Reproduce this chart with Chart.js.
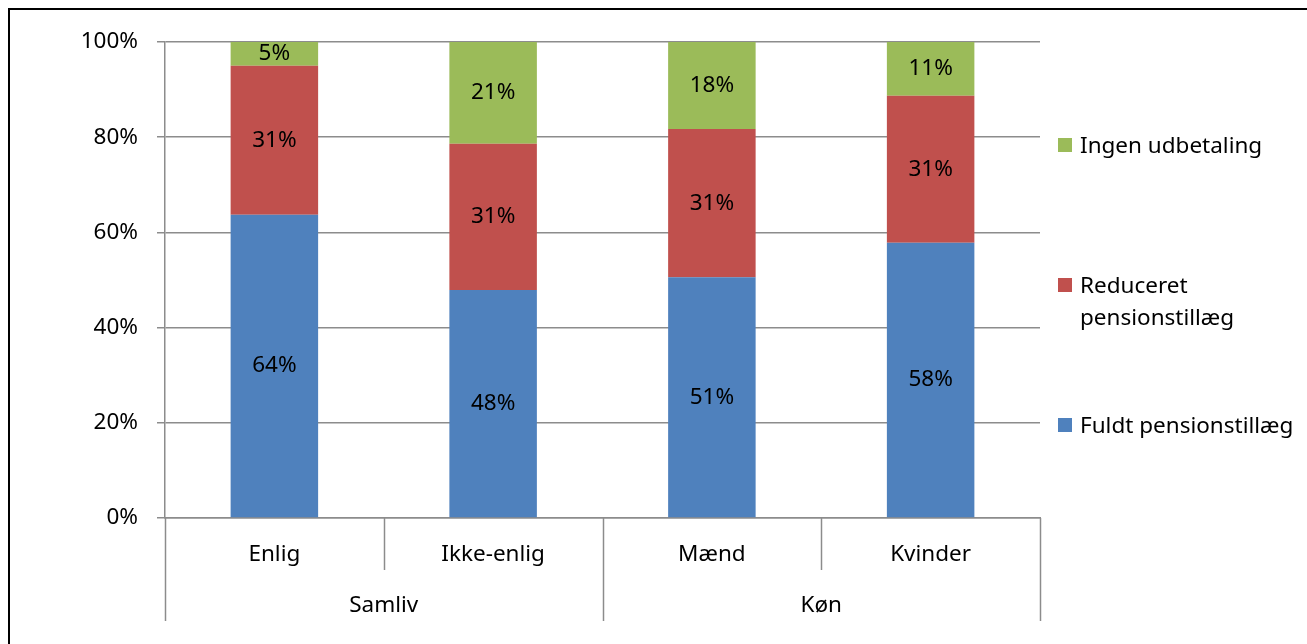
<!DOCTYPE html>
<html lang="da">
<head>
  <meta charset="UTF-8">
  <title>Pensionstillæg</title>
  <script src="https://cdn.jsdelivr.net/npm/chart.js"></script>
  <style>
    body { margin: 0; background: #fff; font-family: 'Noto Sans', sans-serif; }
    #wrap { position: relative; width: 1307px; height: 644px; overflow: hidden; }
    #frame { position: absolute; left: 8px; top: 8px; right: -4px; bottom: -4px;
             border-left: 2px solid #000; border-top: 2px solid #000; }
    #myChart { position: absolute; left: 0; top: 0; }
    .leg { position: absolute; left: 1058px; font-size: 22.5px; line-height: 32px; color: #000; }
    .leg span.box { position: absolute; left: 0; top: 9px; width: 14px; height: 14px; }
    .leg span.txt { display: block; margin-left: 22px; width: 226px; white-space: normal; }
  </style>
</head>
<body>
  <div id="wrap">
    <div id="frame"></div>
    <canvas id="myChart" width="1307" height="644"></canvas>
  </div>

  <script>
    const categories = ['Enlig', 'Ikke-enlig', 'Mænd', 'Kvinder'];
    const groupLabels = ['Samliv', 'Køn'];
    const groupSizes = [2, 2];

    const seriesNames = ['Fuldt pensionstillæg', 'Reduceret pensionstillæg', 'Ingen udbetaling'];
    const fuldt = [63.7, 47.9, 50.6, 57.8];
    const reduceret = [31.3, 30.7, 31.1, 30.9];
    const ingen = [5.0, 21.4, 18.3, 11.3];
    const seriesColors = ['#4F81BD', '#C0504D', '#9BBB59'];

    const yTicks = [0, 20, 40, 60, 80, 100];

    const FONT = "'Noto Sans', sans-serif";
    const FSIZE = 22.5;
    const GRID = '#8c8c8c';

    // value labels in the middle of each segment
    const segmentLabels = {
      id: 'segmentLabels',
      afterDatasetsDraw(chart) {
        const ctx = chart.ctx;
        ctx.save();
        ctx.font = FSIZE + 'px ' + FONT;
        ctx.fillStyle = '#000';
        ctx.textAlign = 'center';
        ctx.textBaseline = 'middle';
        chart.data.datasets.forEach((ds, i) => {
          chart.getDatasetMeta(i).data.forEach((bar, j) => {
            ctx.fillText(Math.round(ds.data[j]) + '%', bar.x, (bar.y + bar.base) / 2);
          });
        });
        ctx.restore();
      }
    };

    // second row of the category axis (groups) and the divider lines
    const groupAxis = {
      id: 'groupAxis',
      afterDraw(chart) {
        const ctx = chart.ctx;
        const x = chart.scales.x;
        const bottom = chart.chartArea.bottom;
        ctx.save();
        ctx.strokeStyle = GRID;
        ctx.lineWidth = 1.5;
        let start = 0;
        const edges = [{ v: -0.5, long: true }];
        groupSizes.forEach((n, g) => {
          for (let k = 1; k < n; k++) edges.push({ v: start + k - 0.5, long: false });
          edges.push({ v: start + n - 0.5, long: true });
          const mid = (x.getPixelForValue(start - 0.5) + x.getPixelForValue(start + n - 0.5)) / 2;
          ctx.font = FSIZE + 'px ' + FONT;
          ctx.fillStyle = '#000';
          ctx.textAlign = 'center';
          ctx.textBaseline = 'middle';
          ctx.fillText(groupLabels[g], mid, bottom + 88);
          start += n;
        });
        edges.forEach(e => {
          const px = Math.round(x.getPixelForValue(e.v)) + 0.5;
          ctx.beginPath();
          ctx.moveTo(px, bottom);
          ctx.lineTo(px, bottom + (e.long ? 103 : 52));
          ctx.stroke();
        });
        ctx.restore();
      }
    };

    const datasets = [fuldt, reduceret, ingen].map((data, i) => ({
      label: seriesNames[i],
      data,
      backgroundColor: seriesColors[i],
      borderWidth: 0,
      categoryPercentage: 1,
      barPercentage: 0.4
    }));

    new Chart(document.getElementById('myChart').getContext('2d'), {
      type: 'bar',
      data: { labels: categories, datasets },
      plugins: [segmentLabels, groupAxis],
      options: {
        responsive: false,
        animation: false,
        layout: { padding: { top: 42, right: 267, bottom: 0, left: 0 } },
        plugins: { legend: { display: false }, tooltip: { enabled: false } },
        scales: {
          x: {
            stacked: true,
            grid: { display: false },
            border: { color: GRID, width: 1.5 },
            ticks: { color: '#000', font: { family: FONT, size: FSIZE }, padding: 15 },
            afterFit: s => { s.height = 126; }
          },
          y: {
            stacked: true,
            min: 0,
            max: 100,
            afterBuildTicks: s => { s.ticks = yTicks.map(v => ({ value: v })); },
            grid: { color: GRID, lineWidth: 1.5, tickLength: 8 },
            border: { color: GRID, width: 1.5 },
            ticks: { color: '#000', font: { family: FONT, size: FSIZE }, padding: 19,
                     callback: v => v + '%' },
            afterFit: s => { s.width = 165; }
          }
        }
      }
    });

    // legend on the right, top item = last series
    const legendTops = [129, 269, 409];
    seriesNames.slice().reverse().forEach((name, i) => {
      const idx = seriesNames.length - 1 - i;
      const d = document.createElement('div');
      d.className = 'leg';
      d.style.top = legendTops[i] + 'px';
      d.innerHTML = '<span class="box" style="background:' + seriesColors[idx] + '"></span><span class="txt"></span>';
      d.querySelector('.txt').textContent = name;
      document.getElementById('wrap').appendChild(d);
    });
  </script>
</body>
</html>
